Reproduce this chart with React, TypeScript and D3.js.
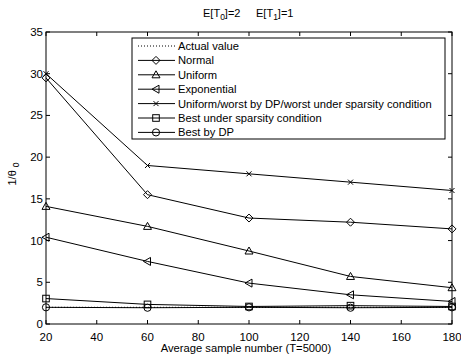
import React from "react";
import * as d3 from "d3";

const xValues = [20, 60, 100, 140, 180];
const actualValue = [2, 2, 2, 2, 2];
const normal = [29.5, 15.5, 12.7, 12.2, 11.4];
const uniform = [14.1, 11.7, 8.75, 5.7, 4.35];
const exponential = [10.4, 7.5, 4.9, 3.5, 2.7];
const uniformWorst = [30, 19, 18, 17, 16];
const bestSparsity = [3.05, 2.35, 2.1, 2.2, 2.1];
const bestDP = [2.0, 1.95, 2.0, 1.95, 2.0];
const xTicks = [20, 40, 60, 80, 100, 120, 140, 160, 180];
const yTicks = [0, 5, 10, 15, 20, 25, 30, 35];

type Series = { name: string; values: number[]; marker: string; dotted?: boolean };
const series: Series[] = [
  { name: "Actual value", values: actualValue, marker: "none", dotted: true },
  { name: "Normal", values: normal, marker: "diamond" },
  { name: "Uniform", values: uniform, marker: "triangleUp" },
  { name: "Exponential", values: exponential, marker: "triangleLeft" },
  { name: "Uniform/worst by DP/worst under sparsity condition", values: uniformWorst, marker: "x" },
  { name: "Best under sparsity condition", values: bestSparsity, marker: "square" },
  { name: "Best by DP", values: bestDP, marker: "circle" },
];

const M = { left: 46, right: 452, top: 32, bottom: 324 };

function Marker({ type, x, y }: { type: string; x: number; y: number }) {
  const s = 4;
  const st = { fill: "none", stroke: "#000", strokeWidth: 1 };
  switch (type) {
    case "diamond":
      return <path d={`M${x},${y - s}L${x + s},${y}L${x},${y + s}L${x - s},${y}Z`} {...st} />;
    case "triangleUp":
      return <path d={`M${x},${y - s}L${x + s},${y + s * 0.75}L${x - s},${y + s * 0.75}Z`} {...st} />;
    case "triangleLeft":
      return <path d={`M${x - s},${y}L${x + s * 0.75},${y - s}L${x + s * 0.75},${y + s}Z`} {...st} />;
    case "x":
      return <path d={`M${x - 2.5},${y - 2.5}L${x + 2.5},${y + 2.5}M${x - 2.5},${y + 2.5}L${x + 2.5},${y - 2.5}`} {...st} />;
    case "square":
      return <rect x={x - 3.3} y={y - 3.3} width={6.6} height={6.6} {...st} />;
    case "circle":
      return <circle cx={x} cy={y} r={3.6} {...st} />;
    default:
      return null;
  }
}

export default function App() {
  const x = d3.scaleLinear().domain([20, 180]).range([M.left, M.right]);
  const y = d3.scaleLinear().domain([0, 35]).range([M.bottom, M.top]);
  const line = d3
    .line<number>()
    .x((_, i) => x(xValues[i]))
    .y((d) => y(d));
  const font = "Liberation Sans, Arial, Helvetica, sans-serif";
  const lg = { left: 132, top: 38, right: 445, bottom: 139, row0: 46, step: 14.4 };
  return (
    <svg width={461} height={356} style={{ position: "absolute", left: 0, top: 0, background: "#fff" }} fontFamily={font}>
      <rect x={0} y={0} width={461} height={356} fill="#fff" />
      {/* title */}
      <text x={203} y={17} fontSize={11}>
        <tspan>E[T</tspan>
        <tspan fontSize={8.5} dy={3}>0</tspan>
        <tspan dy={-3}>]=2</tspan>
      </text>
      <text x={256} y={17} fontSize={11}>
        <tspan>E[T</tspan>
        <tspan fontSize={8.5} dy={3}>1</tspan>
        <tspan dy={-3}>]=1</tspan>
      </text>
      {/* series */}
      {series.map((s) => (
        <g key={s.name}>
          <path
            d={line(s.values) || ""}
            fill="none"
            stroke="#000"
            strokeWidth={1}
            strokeDasharray={s.dotted ? "1,2" : undefined}
          />
          {s.values.map((v, i) => (
            <Marker key={i} type={s.marker} x={x(xValues[i])} y={y(v)} />
          ))}
        </g>
      ))}
      {/* axes box */}
      <rect x={M.left} y={M.top} width={M.right - M.left} height={M.bottom - M.top} fill="none" stroke="#000" strokeWidth={1} />
      {xTicks.map((t) => (
        <g key={"x" + t}>
          <line x1={x(t)} x2={x(t)} y1={M.bottom} y2={M.bottom - 4} stroke="#000" />
          <line x1={x(t)} x2={x(t)} y1={M.top} y2={M.top + 4} stroke="#000" />
          <text x={x(t)} y={341} fontSize={11.5} textAnchor="middle">{t}</text>
        </g>
      ))}
      {yTicks.map((t) => (
        <g key={"y" + t}>
          <line x1={M.left} x2={M.left + 4} y1={y(t)} y2={y(t)} stroke="#000" />
          <line x1={M.right} x2={M.right - 4} y1={y(t)} y2={y(t)} stroke="#000" />
          <text x={M.left - 3} y={y(t) + 4} fontSize={11.5} textAnchor="end">{t}</text>
        </g>
      ))}
      {/* axis labels */}
      <text x={246} y={352} fontSize={11.2} textAnchor="middle">Average sample number (T=5000)</text>
      <text transform="translate(16,174) rotate(-90)" fontSize={11} textAnchor="middle">
        <tspan>1/θ</tspan>
        <tspan fontSize={8.5} dx={3} dy={3}>0</tspan>
      </text>
      {/* legend */}
      <rect x={lg.left} y={lg.top} width={lg.right - lg.left} height={lg.bottom - lg.top} fill="#fff" stroke="#000" strokeWidth={1} />
      {series.map((s, i) => {
        const yy = lg.row0 + i * lg.step;
        return (
          <g key={"lg" + s.name}>
            <line x1={138} x2={175} y1={yy} y2={yy} stroke="#000" strokeDasharray={s.dotted ? "1,2" : undefined} />
            <Marker type={s.marker} x={156} y={yy} />
            <text x={178} y={yy + 4} fontSize={11.2}>{s.name}</text>
          </g>
        );
      })}
    </svg>
  );
}
